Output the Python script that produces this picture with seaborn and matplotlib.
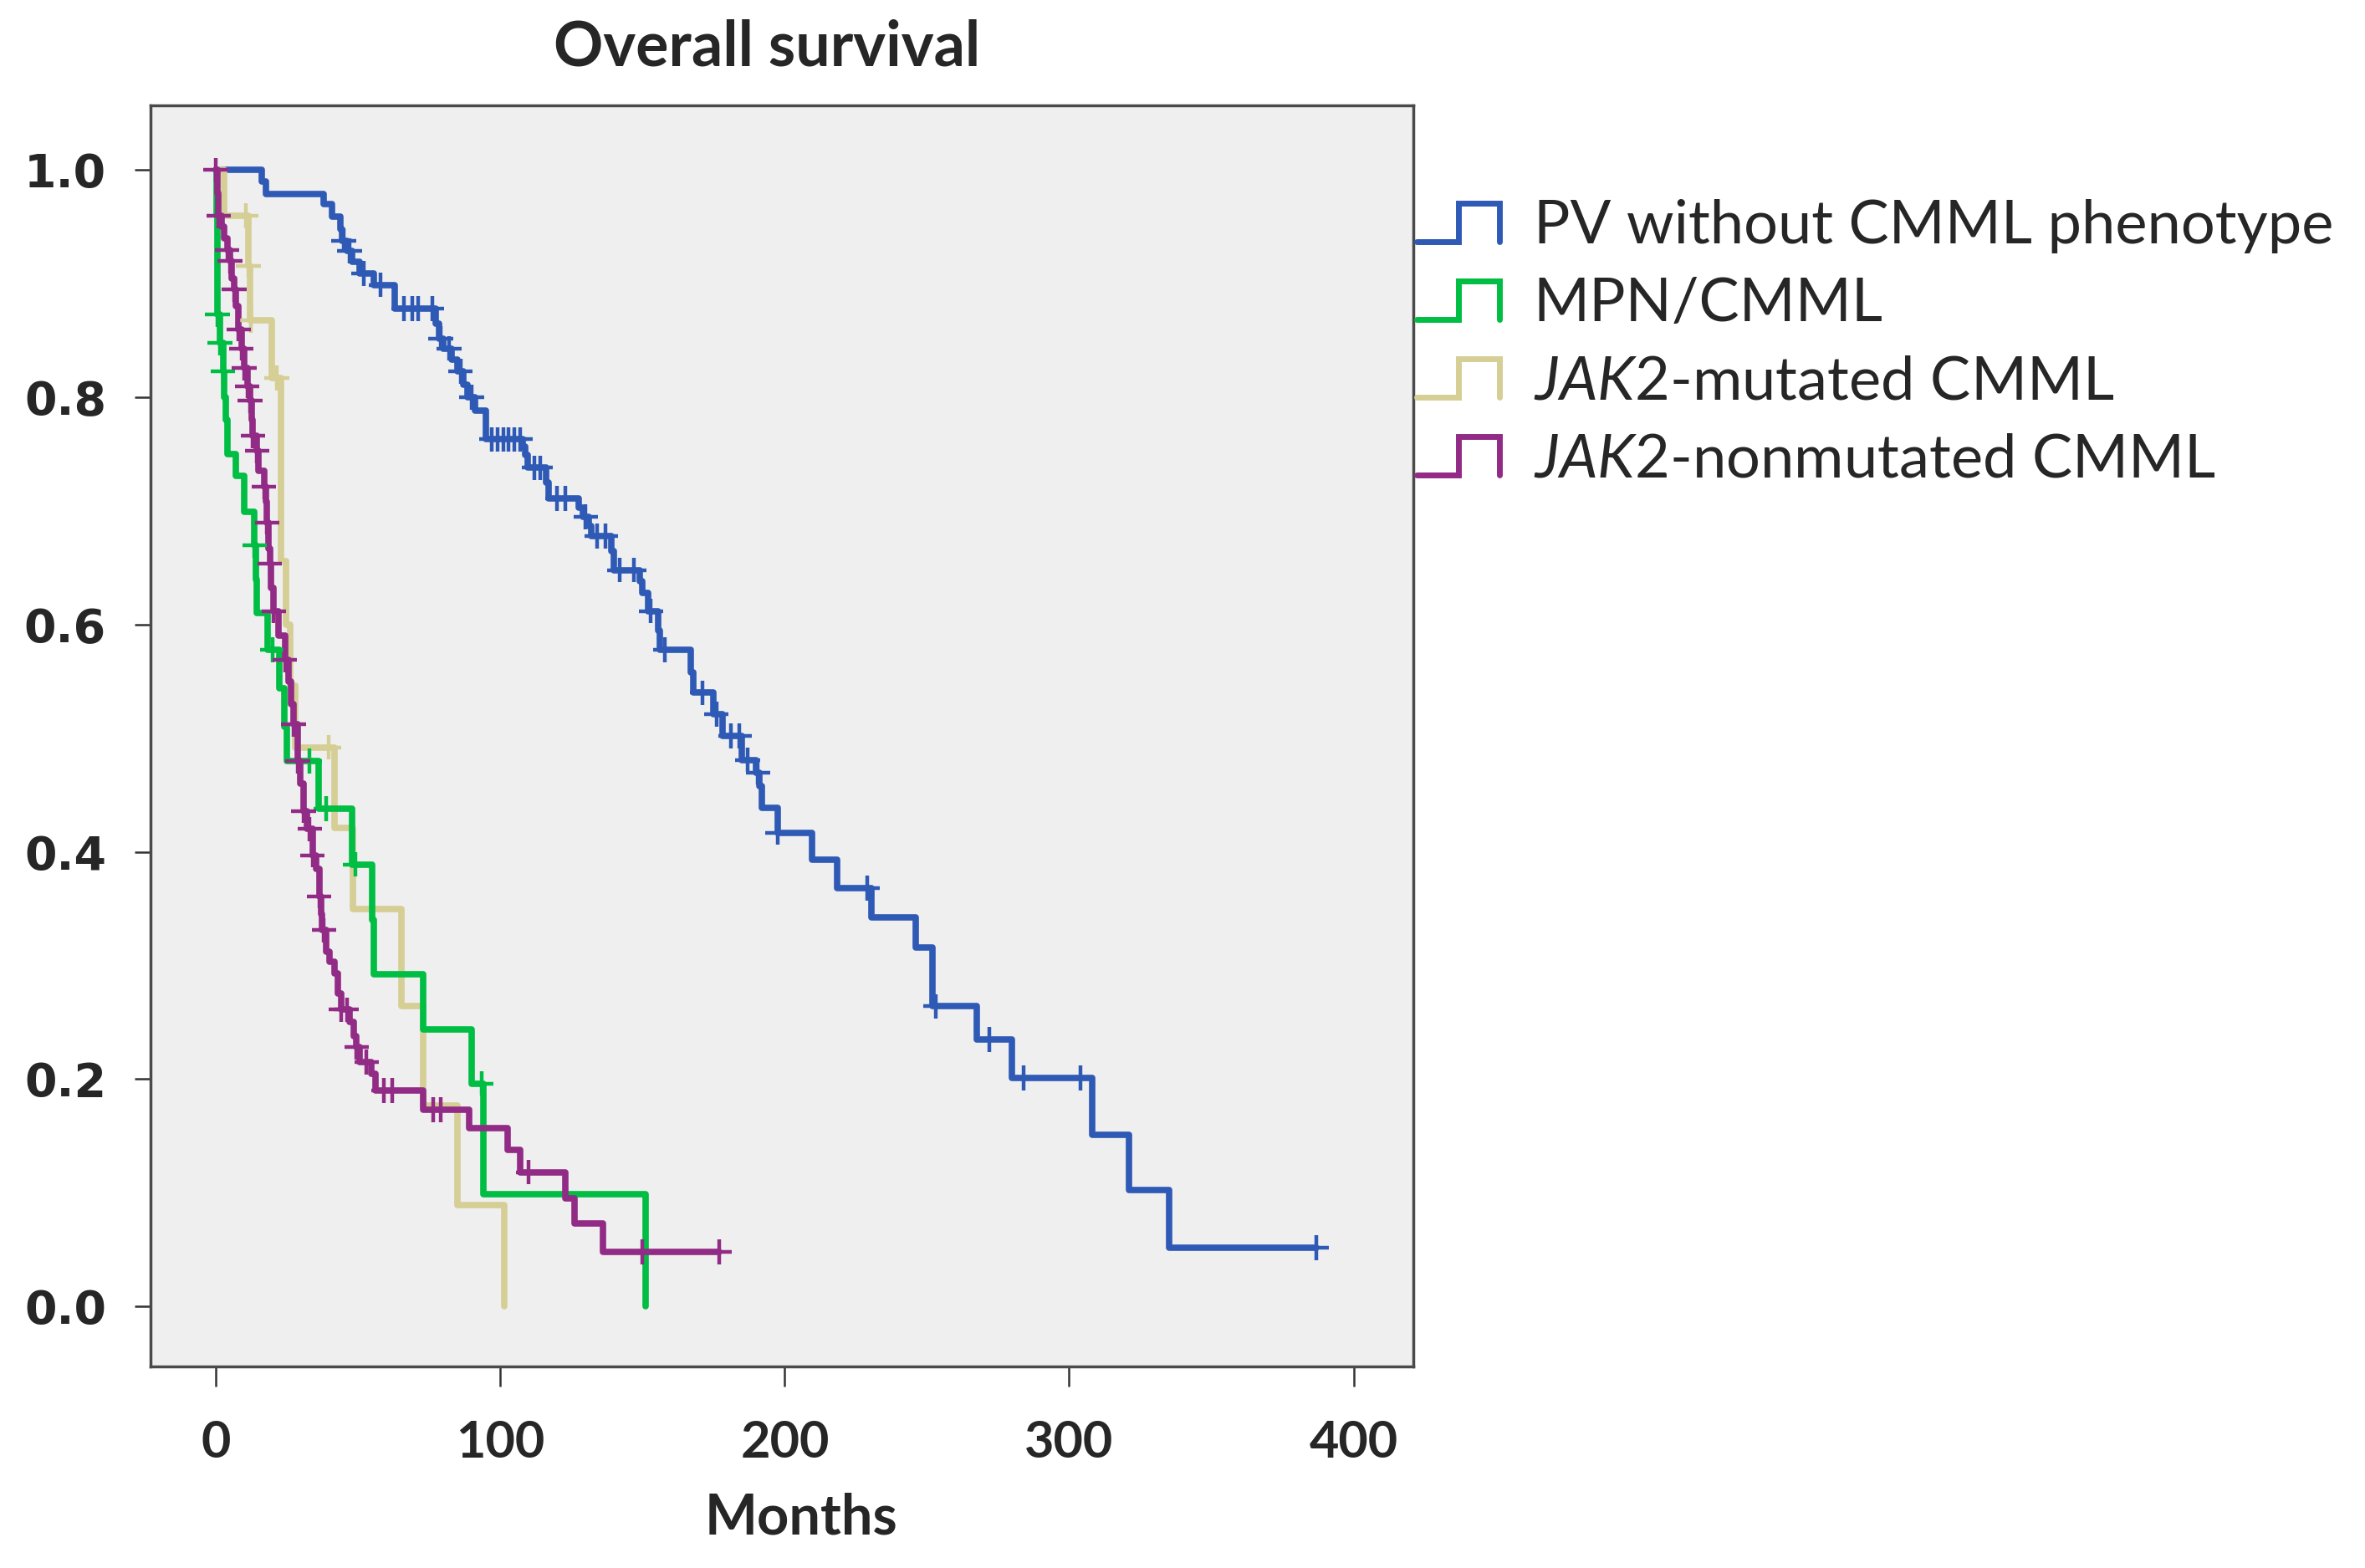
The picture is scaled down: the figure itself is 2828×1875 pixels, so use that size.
import numpy as np
import pandas as pd
import matplotlib
matplotlib.use("Agg")
import matplotlib.pyplot as plt
import seaborn as sns
from matplotlib.lines import Line2D
from matplotlib.legend_handler import HandlerBase

# Kaplan-Meier steps: time (months) where survival drops to the value
pv_time = [0, 16, 17.6, 37.8, 40.8, 43.7, 44.5, 46.2, 48, 50.6, 55.5, 63, 77.4, 78.5, 80, 83, 85, 87,
           88.5, 91, 95, 108, 108.8, 109.5, 116, 117, 127.5, 129, 131, 132, 139, 140, 149, 150, 152,
           155.6, 156, 167, 168, 175, 178, 185, 190, 191, 192, 197.6, 209.6, 218.5, 230.5, 246, 252,
           267.6, 280, 308, 321, 335, 387]
pv_surv = [1.0, 0.99, 0.979, 0.970, 0.959, 0.948, 0.938, 0.929, 0.919, 0.909, 0.899, 0.878, 0.865,
           0.852, 0.843, 0.833, 0.823, 0.811, 0.800, 0.788, 0.763, 0.757, 0.749, 0.738, 0.725, 0.711,
           0.703, 0.695, 0.687, 0.678, 0.665, 0.648, 0.638, 0.628, 0.612, 0.595, 0.578, 0.558, 0.540,
           0.521, 0.502, 0.481, 0.470, 0.458, 0.439, 0.417, 0.393, 0.368, 0.342, 0.316, 0.264, 0.235,
           0.201, 0.151, 0.102, 0.0515, 0.0515]
pv_cens = [45, 47, 52, 58, 66, 69, 71, 76, 79, 82, 86, 90, 97, 99, 101, 103, 105, 107, 112, 114, 120,
           123, 130, 134, 137, 142, 147, 153, 158, 171, 176, 181, 184, 187, 190.6, 197.6, 229, 253,
           272, 284, 304, 387]

mpn_time = [0, 0.3, 0.5, 0.6, 1.5, 2.5, 3, 3.5, 4, 7, 10, 13.5, 14, 14.3, 18.2, 22.2, 24, 25.1, 36,
            48, 55, 55.5, 73, 90, 94, 151]
mpn_surv = [1.0, 0.96, 0.92, 0.873, 0.848, 0.823, 0.80, 0.78, 0.75, 0.731, 0.699, 0.67, 0.64, 0.61,
            0.578, 0.544, 0.51, 0.48, 0.438, 0.389, 0.34, 0.292, 0.244, 0.196, 0.099, 0.0]
mpn_cens = [0.6, 1.5, 2.5, 13.6, 20, 33, 38.7, 49, 93.4]

jak2m_time = [0, 3, 11.4, 12, 19.7, 23, 24.6, 26, 28, 41.8, 48.3, 65.3, 73, 85, 101.3]
jak2m_surv = [1.0, 0.96, 0.916, 0.868, 0.817, 0.656, 0.60, 0.546, 0.492, 0.421, 0.35, 0.264, 0.177,
              0.089, 0.0]
jak2m_cens = [10.5, 11.4, 12.2, 21.5, 39.8]

jak2n_time = [0, 0.5, 1, 2, 3, 4, 5, 5.5, 6.4, 7, 8, 9, 10, 11, 12, 12.5, 13, 14.5, 15, 16.9, 17.5,
              18, 18.5, 19, 19.5, 20.4, 22, 24.3, 25.5, 26.5, 27.3, 28.8, 29.8, 30.8, 32, 34, 35.2,
              36.3, 37, 37.4, 38.8, 40, 41.6, 43, 44, 47, 48.5, 49.5, 50.6, 54.7, 56, 73, 89, 102.6,
              107, 123, 126, 136, 177]
jak2n_surv = [1.0, 0.98, 0.96, 0.95, 0.94, 0.93, 0.92, 0.905, 0.895, 0.88, 0.86, 0.843, 0.826, 0.81,
              0.797, 0.78, 0.766, 0.753, 0.735, 0.721, 0.708, 0.69, 0.667, 0.654, 0.632, 0.612, 0.59,
              0.569, 0.55, 0.53, 0.512, 0.48, 0.46, 0.436, 0.42, 0.397, 0.385, 0.361, 0.345, 0.331,
              0.312, 0.303, 0.293, 0.275, 0.261, 0.25, 0.238, 0.228, 0.215, 0.205, 0.19, 0.173, 0.157,
              0.138, 0.118, 0.095, 0.073, 0.048, 0.048]
jak2n_cens = [0, 1, 4, 5, 6.4, 8, 9, 10, 11, 12, 13, 14.5, 16.9, 18, 19, 20.4, 24.3, 27.3, 28.8, 30.8,
              33, 34, 36.3, 38, 44, 46, 49.5, 53, 59, 62, 76.5, 79, 110, 150, 177]

groups = ["PV without CMML phenotype", "MPN/CMML", "JAK2-mutated CMML", "JAK2-nonmutated CMML"]
legend_labels = ["PV without CMML phenotype", "MPN/CMML",
                 r"$\mathit{JAK2}$-mutated CMML", r"$\mathit{JAK2}$-nonmutated CMML"]
colors = {"PV without CMML phenotype": "#2E5AB6", "MPN/CMML": "#00BD43",
          "JAK2-mutated CMML": "#D5CE95", "JAK2-nonmutated CMML": "#922B86"}
draw_order = ["PV without CMML phenotype", "JAK2-mutated CMML", "MPN/CMML", "JAK2-nonmutated CMML"]

all_time = [pv_time, mpn_time, jak2m_time, jak2n_time]
all_surv = [pv_surv, mpn_surv, jak2m_surv, jak2n_surv]
all_cens = [pv_cens, mpn_cens, jak2m_cens, jak2n_cens]

curves = []
cens = []
for g, t, s, c in zip(groups, all_time, all_surv, all_cens):
    curves.append(pd.DataFrame({"time": t, "surv": s, "group": g}))
    idx = np.searchsorted(np.array(t), np.array(c), side="right") - 1
    cens.append(pd.DataFrame({"time": c, "surv": np.array(s)[idx], "group": g}))
curves = pd.concat(curves, ignore_index=True)
cens = pd.concat(cens, ignore_index=True)


class StepHandler(HandlerBase):
    def create_artists(self, legend, orig_handle, xdescent, ydescent, width, height, fontsize, trans):
        x0, y0 = -xdescent, -ydescent
        xs = [x0, x0 + width * 0.5, x0 + width * 0.5, x0 + width, x0 + width]
        ys = [y0, y0, y0 + height, y0 + height, y0]
        ln = Line2D(xs, ys, color=orig_handle.get_color(), lw=orig_handle.get_linewidth(),
                    solid_joinstyle="miter", transform=trans)
        return [ln]


sns.set_theme(style="white")
plt.rcParams["font.family"] = ["Lato", "DejaVu Sans"]
plt.rcParams["mathtext.fontset"] = "custom"
plt.rcParams["mathtext.it"] = "Lato:italic"
plt.rcParams["mathtext.rm"] = "Lato"

fig = plt.figure(figsize=(28.28, 18.75), dpi=100)
ax = fig.add_axes([0.0636, 0.1285, 0.534, 0.8043])
ax.set_facecolor("#EFEFEF")

sns.lineplot(data=curves, x="time", y="surv", hue="group", hue_order=draw_order, palette=colors,
             estimator=None, sort=False, drawstyle="steps-post", linewidth=5.5, legend=False, ax=ax)
sns.scatterplot(data=cens, x="time", y="surv", hue="group", hue_order=draw_order, palette=colors,
                marker="+", s=450, linewidth=3.2, legend=False, ax=ax, zorder=3)

ax.set_xlim(-23, 421)
ax.set_ylim(-0.053, 1.057)
ax.set_xticks([0, 100, 200, 300, 400])
ax.set_yticks([0.0, 0.2, 0.4, 0.6, 0.8, 1.0])
ax.set_yticklabels(["0.0", "0.2", "0.4", "0.6", "0.8", "1.0"], fontfamily="DejaVu Sans",
                   fontweight="bold", fontsize=40)
ax.set_xticklabels(["0", "100", "200", "300", "400"], fontfamily="Lato", fontweight="bold", fontsize=44)
ax.tick_params(axis="x", direction="out", length=17, width=1.8, color="#333333", pad=28, bottom=True)
ax.tick_params(axis="y", direction="out", length=14, width=1.8, color="#333333", pad=24, left=True)
for sp in ax.spines.values():
    sp.set_color("#4A4A4A")
    sp.set_linewidth(2.5)

ax.set_xlabel("Months", fontsize=48, fontweight="bold", labelpad=20)
ax.xaxis.set_label_coords(0.515, -0.1)
ax.xaxis.label.set_verticalalignment("top")
ax.set_ylabel("")
ax.set_title("Overall survival", fontsize=53, fontweight="bold", pad=34, x=0.488)

handles = [Line2D([], [], color=colors[g], lw=5) for g in groups]
ax.legend(handles, legend_labels, handler_map={Line2D: StepHandler()}, loc="upper left",
          bbox_to_anchor=(0.599, 0.873), bbox_transform=fig.transFigure, frameon=False,
          prop={"family": "Lato", "size": 52}, handlelength=1.375, handleheight=0.6,
          handletextpad=0.56, labelspacing=0.39, borderpad=0, borderaxespad=0)

fig.savefig("out.png", dpi=100, facecolor="white")
